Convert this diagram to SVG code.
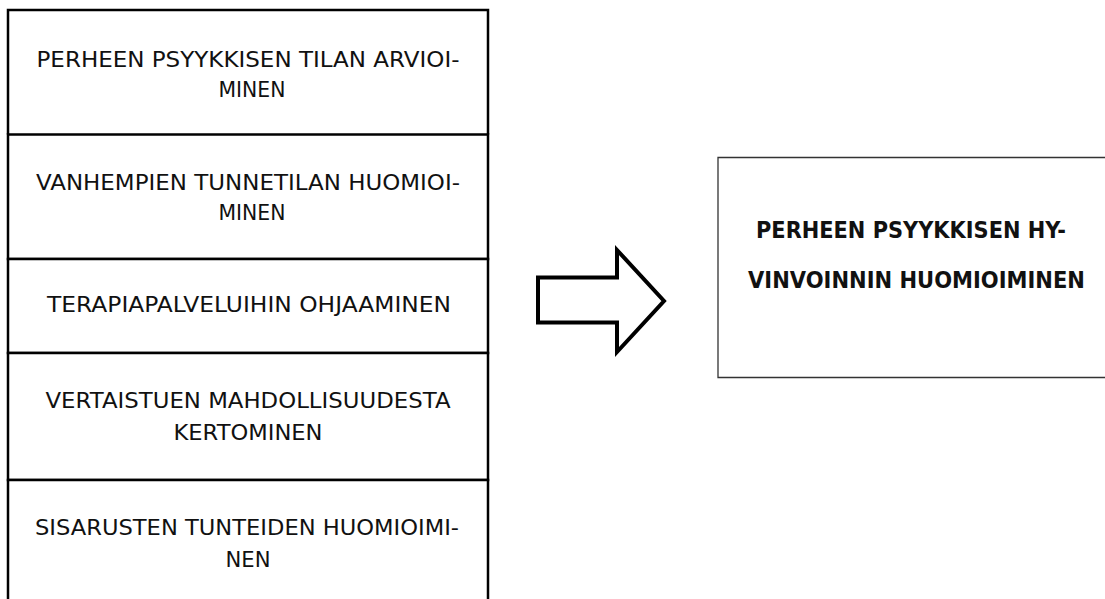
<svg xmlns="http://www.w3.org/2000/svg" width="1105" height="599" viewBox="0 0 1105 599">
  <style>
    .cell { fill: #ffffff; stroke: #000000; stroke-width: 2.5; }
    .lbl { font-family: "DejaVu Sans", "Liberation Sans", sans-serif; font-size: 22px; fill: #111111; text-anchor: middle; }
    .big { font-family: "DejaVu Sans", "Liberation Sans", sans-serif; font-size: 23px; font-weight: bold; fill: #111111; text-anchor: middle; }
    .goal { fill: #ffffff; stroke: #333333; stroke-width: 1.3; }
    .arrow { fill: #ffffff; stroke: #000000; stroke-width: 4; stroke-linejoin: miter; }
  </style>

  <!-- left column: stacked task cells -->
  <g id="cell-1">
    <path class="cell" d="M8,134.5 V10 H488 V134.5"/>
    <text class="lbl" x="248" y="67" textLength="423" lengthAdjust="spacingAndGlyphs">PERHEEN PSYYKKISEN TILAN ARVIOI-</text>
    <text class="lbl" x="252" y="97" textLength="67" lengthAdjust="spacingAndGlyphs">MINEN</text>
  </g>
  <g id="cell-2">
    <path class="cell" d="M8,134.5 H488 V259 H8 Z"/>
    <text class="lbl" x="248" y="190" textLength="424" lengthAdjust="spacingAndGlyphs">VANHEMPIEN TUNNETILAN HUOMIOI-</text>
    <text class="lbl" x="252" y="220" textLength="67" lengthAdjust="spacingAndGlyphs">MINEN</text>
  </g>
  <g id="cell-3">
    <path class="cell" d="M8,259 H488 V353 H8 Z"/>
    <text class="lbl" x="249" y="312" textLength="404" lengthAdjust="spacingAndGlyphs">TERAPIAPALVELUIHIN OHJAAMINEN</text>
  </g>
  <g id="cell-4">
    <path class="cell" d="M8,353 H488 V480 H8 Z"/>
    <text class="lbl" x="248" y="408" textLength="405" lengthAdjust="spacingAndGlyphs">VERTAISTUEN MAHDOLLISUUDESTA</text>
    <text class="lbl" x="248" y="440" textLength="149" lengthAdjust="spacingAndGlyphs">KERTOMINEN</text>
  </g>
  <g id="cell-5">
    <path class="cell" d="M8,605 V480 H488 V605"/>
    <text class="lbl" x="247" y="535" textLength="424" lengthAdjust="spacingAndGlyphs">SISARUSTEN TUNTEIDEN HUOMIOIMI-</text>
    <text class="lbl" x="248" y="567" textLength="45" lengthAdjust="spacingAndGlyphs">NEN</text>
  </g>

  <!-- connector: block arrow -->
  <g id="connectors">
    <path class="arrow" d="M538,277.5 H617 V250 L664,301 L617,352 V322.5 H538 Z"/>
  </g>

  <!-- right: outcome box -->
  <g id="outcome">
    <path class="goal" d="M1110,157.5 H718 V377.5 H1110"/>
    <text class="big" x="911" y="238" textLength="310" lengthAdjust="spacingAndGlyphs">PERHEEN PSYYKKISEN HY-</text>
    <text class="big" x="916.5" y="288" textLength="337" lengthAdjust="spacingAndGlyphs">VINVOINNIN HUOMIOIMINEN</text>
  </g>
</svg>
